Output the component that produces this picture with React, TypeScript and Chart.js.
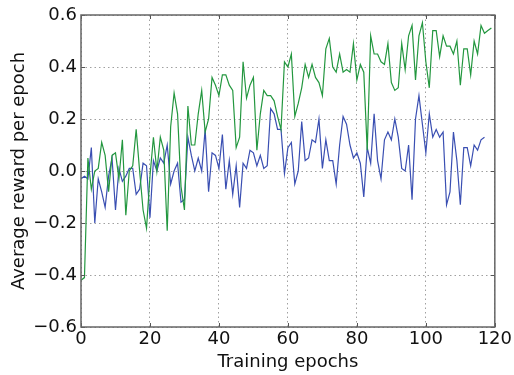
import React, { useEffect, useRef } from "react";
import { Chart, registerables } from "chart.js";

Chart.register(...registerables);

// Green series: epochs 0..119
const greenValues = [
  -0.42, -0.41, 0.05, -0.07, 0.0, 0.01, 0.11, 0.06, -0.08, 0.06,
  0.07, -0.03, 0.12, -0.17, 0.0, 0.02, 0.16, 0.0, -0.15, -0.22,
  -0.02, 0.13, 0.0, 0.13, 0.08, -0.23, 0.17, 0.3, 0.22, -0.06,
  -0.15, 0.25, 0.1, 0.1, 0.22, 0.31, 0.15, 0.2, 0.36, 0.33,
  0.29, 0.37, 0.37, 0.33, 0.31, 0.09, 0.13, 0.42, 0.28, 0.33,
  0.36, 0.08, 0.22, 0.31, 0.29, 0.29, 0.27, 0.21, 0.16, 0.42,
  0.4, 0.45, 0.21, 0.26, 0.32, 0.41, 0.36, 0.41, 0.36, 0.34,
  0.29, 0.47, 0.51, 0.4, 0.38, 0.45, 0.38, 0.39, 0.38, 0.49,
  0.35, 0.41, 0.38, 0.08, 0.52, 0.45, 0.45, 0.42, 0.41, 0.49,
  0.34, 0.31, 0.32, 0.49, 0.39, 0.52, 0.56, 0.35, 0.52, 0.57,
  0.42, 0.32, 0.54, 0.54, 0.44, 0.52, 0.48, 0.48, 0.45, 0.5,
  0.33, 0.47, 0.47, 0.37, 0.5, 0.45, 0.56, 0.53, 0.54, 0.55,
];

// Blue series: epochs 0..117
const blueValues = [
  -0.03, -0.02, -0.03, 0.09, -0.2, -0.03, -0.08, -0.14, -0.02, 0.05,
  -0.15, 0.01, -0.04, -0.02, 0.01, 0.01, -0.09, -0.07, 0.03, 0.02,
  -0.18, 0.04, 0.0, 0.05, 0.03, 0.1, -0.05, 0.0, 0.03, -0.12,
  -0.11, 0.13, 0.06, 0.0, 0.05, 0.0, 0.16, -0.08, 0.07, 0.06,
  0.01, 0.14, -0.07, 0.04, -0.09, 0.02, -0.14, 0.03, 0.01, 0.08,
  0.07, 0.02, 0.06, 0.01, 0.02, 0.24, 0.22, 0.16, 0.16, -0.01,
  0.09, 0.11, -0.05, 0.0, 0.19, 0.04, 0.05, 0.12, 0.11, 0.2,
  0.01, 0.12, 0.04, 0.04, -0.05, 0.1, 0.21, 0.18, 0.1, 0.05,
  0.07, 0.03, -0.1, 0.09, 0.03, 0.22, 0.04, -0.03, 0.12, 0.15,
  0.12, 0.2, 0.13, 0.01, 0.0, 0.1, -0.11, 0.2, 0.29, 0.18,
  0.07, 0.22, 0.13, 0.16, 0.13, 0.15, -0.13, -0.08, 0.15, 0.04,
  -0.13, 0.09, 0.09, 0.02, 0.1, 0.08, 0.12, 0.13,
];

const xTitle = "Training epochs";
const yTitle = "Average reward per epoch";
const xRange = [0, 120];
const yRange = [-0.6, 0.6];

const FONT = "'DejaVu Sans', sans-serif";

const fmtY = (v: number) => {
  const n = Math.abs(v) < 1e-9 ? 0 : v;
  return n.toFixed(1).replace("-", "\u2212");
};

const framePlugin = {
  id: "frameTicks",
  afterDatasetsDraw(chart: any) {
    const { ctx, chartArea, scales } = chart;
    const { left, right, top, bottom } = chartArea;
    ctx.save();
    ctx.strokeStyle = "#555";
    ctx.lineWidth = 1;
    const tl = 4;
    ctx.beginPath();
    scales.x.ticks.forEach((t: any) => {
      const px = Math.round(scales.x.getPixelForValue(t.value)) + 0.5;
      ctx.moveTo(px, bottom);
      ctx.lineTo(px, bottom - tl);
      ctx.moveTo(px, top);
      ctx.lineTo(px, top + tl);
    });
    scales.y.ticks.forEach((t: any) => {
      const py = Math.round(scales.y.getPixelForValue(t.value)) + 0.5;
      ctx.moveTo(left, py);
      ctx.lineTo(left + tl, py);
      ctx.moveTo(right, py);
      ctx.lineTo(right - tl, py);
    });
    ctx.stroke();
    ctx.strokeStyle = "#666";
    ctx.lineWidth = 1.5;
    ctx.strokeRect(left, top, right - left, bottom - top);
    ctx.restore();
  },
};

export default function App() {
  const ref = useRef<HTMLCanvasElement | null>(null);
  useEffect(() => {
    if (!ref.current) return;
    const chart = new Chart(ref.current, {
      type: "line",
      data: {
        datasets: [
          {
            label: "green",
            data: greenValues.map((v, i) => ({ x: i, y: v })),
            borderColor: "#23973f",
            borderWidth: 1.2,
            pointRadius: 0,
            tension: 0,
          },
          {
            label: "blue",
            data: blueValues.map((v, i) => ({ x: i, y: v })),
            borderColor: "#3a4fb2",
            borderWidth: 1.2,
            pointRadius: 0,
            tension: 0,
          },
        ],
      },
      options: {
        animation: false,
        responsive: false,
        maintainAspectRatio: false,
        layout: { padding: { top: 15, right: 19, left: 0, bottom: 0 } },
        plugins: { legend: { display: false }, tooltip: { enabled: false } },
        scales: {
          x: {
            type: "linear",
            min: xRange[0],
            max: xRange[1],
            afterFit: (s: any) => {
              s.height = 48;
            },
            ticks: {
              stepSize: 20,
              color: "#111",
              font: { family: FONT, size: 18 },
              padding: 2,
              maxRotation: 0,
            },
            grid: {
              color: "#a0a0a0",
              lineWidth: 1,
              drawTicks: false,
            },
            border: { display: false, dash: [1.5, 3] },
            title: {
              display: true,
              text: xTitle,
              color: "#111",
              font: { family: FONT, size: 18 },
              padding: { top: 0, bottom: 2 },
            },
          },
          y: {
            type: "linear",
            min: yRange[0],
            max: yRange[1],
            afterFit: (s: any) => {
              s.width = 81;
            },
            ticks: {
              stepSize: 0.2,
              color: "#111",
              font: { family: FONT, size: 18 },
              padding: 4,
              callback: (v: any) => fmtY(Number(v)),
            },
            grid: { color: "#a0a0a0", lineWidth: 1, drawTicks: false },
            border: { display: false, dash: [1.5, 3] },
            title: {
              display: true,
              text: yTitle,
              color: "#111",
              font: { family: FONT, size: 18 },
              padding: { top: 9, bottom: 0 },
            },
          },
        },
      },
      plugins: [framePlugin],
    });
    return () => chart.destroy();
  }, []);
  return (
    <div style={{ position: "fixed", left: 0, top: 0, width: 514, height: 375, background: "#fff" }}>
      <canvas ref={ref} width={514} height={375} style={{ width: 514, height: 375 }} />
    </div>
  );
}
